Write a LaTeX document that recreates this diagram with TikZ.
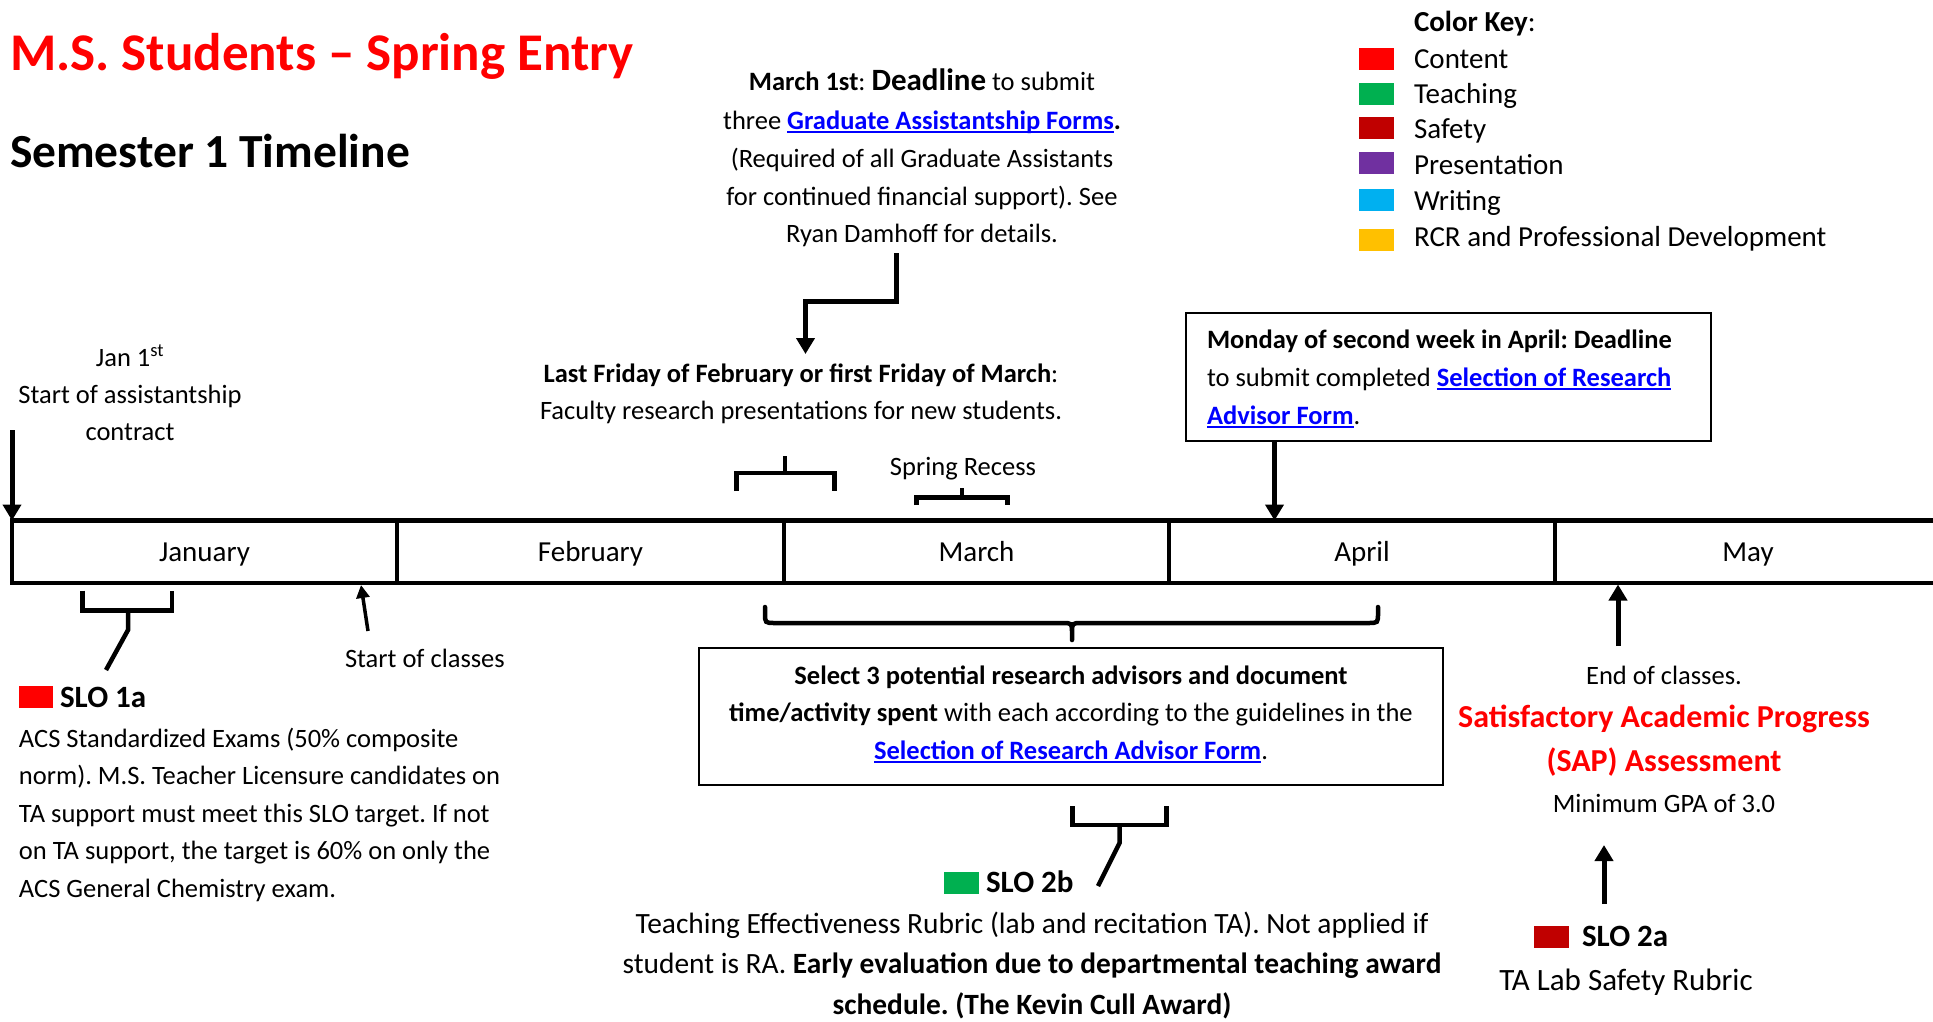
\documentclass[tikz,border=0pt]{standalone}
\usepackage{fontspec}
\setmainfont{Carlito}
\usetikzlibrary{arrows.meta}
\definecolor{keyred}{HTML}{FF0000}
\definecolor{keygreen}{HTML}{00B050}
\definecolor{keydark}{HTML}{C00000}
\definecolor{keypurple}{HTML}{7030A0}
\definecolor{keyblue}{HTML}{00B0F0}
\definecolor{keyyellow}{HTML}{FFC000}
\definecolor{linkblue}{HTML}{0000FF}
\newsavebox\lnkbox
\newcommand{\lnk}[1]{{\color{linkblue}\bfseries\sbox\lnkbox{#1}\rlap{\rule[-0.15em]{\wd\lnkbox}{0.065em}}\usebox\lnkbox}}
\newcommand{\fsz}[1]{\fontsize{#1}{#1}\selectfont}
\frenchspacing
\begin{document}
\frenchspacing
\begin{tikzpicture}[x=1pt, y=-1pt,
  txt/.style={inner sep=0pt, outer sep=0pt, font=\fsz{26.5}},
  tl/.style={txt, anchor=base west},
  tc/.style={txt, anchor=base},
  arr/.style={line width=5pt, -{Triangle[width=18pt,length=16pt]}},
  thinarr/.style={line width=3.5pt, -{Triangle[width=13pt,length=13pt]}},
  brk/.style={line width=4.5pt, line join=miter},
  month/.style={draw, line width=4.5pt, minimum height=62.5pt, inner sep=0pt, outer sep=0pt},
  infobox/.style={draw, line width=2pt, inner sep=0pt, outer sep=0pt},
  swatch/.style={inner sep=0pt, outer sep=0pt, minimum width=35pt, minimum height=22pt, anchor=north west}]
\fill[white] (0,0) rectangle (1933,1021);
\useasboundingbox (0,0) rectangle (1933,1021);

% Titles
\node[tl, font=\fsz{53}\bfseries, text=keyred] (title) at (10,70) {M.S. Students – Spring Entry};
\node[tl, font=\fsz{47.5}\bfseries] (subtitle) at (10,167) {Semester 1 Timeline};

% Color key
\node[tl, font=\fsz{29}] (keyhead) at (1414,31) {\textbf{Color Key}:};
\node[swatch, fill=keyred] (sw1) at (1359,48) {};
\node[swatch, fill=keygreen] (sw2) at (1359,82.5) {};
\node[swatch, fill=keydark] (sw3) at (1359,116.5) {};
\node[swatch, fill=keypurple] (sw4) at (1359,152) {};
\node[swatch, fill=keyblue] (sw5) at (1359,188.5) {};
\node[swatch, fill=keyyellow] (sw6) at (1359,228.5) {};
\node[tl, font=\fsz{29}] (k1) at (1414,68) {Content};
\node[tl, font=\fsz{29}] (k2) at (1414,103.5) {Teaching};
\node[tl, font=\fsz{29}] (k3) at (1414,138.5) {Safety};
\node[tl, font=\fsz{29}] (k4) at (1414,174) {Presentation};
\node[tl, font=\fsz{29}] (k5) at (1414,210) {Writing};
\node[tl, font=\fsz{29}] (k6) at (1414,246.5) {RCR and Professional Development};

% Timeline
\node[month, minimum width=385pt] (jan) at (204.5,551.75) {};
\node[month, minimum width=387pt] (feb) at (590.5,551.75) {};
\node[month, minimum width=385pt] (mar) at (976.5,551.75) {};
\node[month, minimum width=386pt] (apr) at (1362,551.75) {};
\node[month, minimum width=386pt] (may) at (1748,551.75) {};
\node[tc, font=\fsz{29}] (janlab) at (204.5,561) {January};
\node[tc, font=\fsz{29}] (feblab) at (590.5,561) {February};
\node[tc, font=\fsz{29}] (marlab) at (976.5,561) {March};
\node[tc, font=\fsz{29}] (aprlab) at (1362,561) {April};
\node[tc, font=\fsz{29}] (maylab) at (1748,561) {May};

% Jan 1st
\node[tc] (j1a) at (130,366) {Jan 1\textsuperscript{st}};
\node[tc] (j1b) at (130,403.5) {Start of assistantship};
\node[tc] (j1c) at (130,440.5) {contract};
\coordinate (j1tail) at (12,430);
\draw[arr] (j1tail) -- (jan.north west);

% March 1st
\node[tc] (m1a) at (922,90) {\textbf{March 1st}: {\fsz{31}\bfseries Deadline} to submit};
\node[tc] (m1b) at (922,129) {three \lnk{Graduate Assistantship Forms}\textbf{.}};
\node[tc] (m1c) at (922,167.5) {(Required of all Graduate Assistants};
\node[tc] (m1d) at (922,205) {for continued financial support). See};
\node[tc] (m1e) at (922,242) {Ryan Damhoff for details.};
\coordinate (m1tail) at (896.5,253);
\coordinate (m1tip) at (805.5,354);
\draw[arr, line join=miter] (m1tail) -- (896.5,301.5) -- (805.5,301.5) -- (m1tip);

% Last Friday
\node[tc] (lfa) at (801,382) {\textbf{Last Friday of February or first Friday of March}:};
\node[tc] (lfb) at (801,419) {Faculty research presentations for new students.};
\draw[brk] (736.5,491) -- (736.5,473) -- (834.5,473) -- (834.5,491);
\draw[brk] (785,473) -- (785,456);

% Spring recess
\node[tc] (spr) at (963,475) {Spring Recess};
\draw[brk] (916.5,505) -- (916.5,497.5) -- (1007.5,497.5) -- (1007.5,505);
\draw[brk] (962,497.5) -- (962,488);

% Monday box
\node[infobox, minimum width=525pt, minimum height=128pt] (monbox) at (1448.5,376.5) {};
\node[tl] (mona) at (1207,348) {\textbf{Monday of second week in April: Deadline}};
\node[tl] (monb) at (1207,386) {to submit completed \lnk{Selection of Research}};
\node[tl] (monc) at (1207,424) {\lnk{Advisor Form}.};
\coordinate (montail) at (1274.5,440.5);
\coordinate (montip) at (1274.5,520.5);
\draw[arr] (montail) -- (montip);

% Start of classes
\node[tl] (soc) at (345,667) {Start of classes};
\coordinate (soctail) at (368,631);
\coordinate (soctip) at (361,585);
\draw[thinarr] (soctail) -- (soctip);

% SLO 1a
\draw[brk] (82.6,590.5) -- (82.6,610.5) -- (172,610.5) -- (172,590.5);
\draw[brk] (128,610.5) -- (128,630) -- (106,670);
\node[swatch, fill=keyred, minimum width=34pt] (s1sw) at (19,686) {};
\node[tl, font=\fsz{31}\bfseries] (s1lab) at (60,707.5) {SLO 1a};
\node[tl] (s1a) at (19,747) {ACS Standardized Exams (50\% composite};
\node[tl] (s1b) at (19,784.5) {norm). M.S. Teacher Licensure candidates on};
\node[tl] (s1c) at (19,822) {TA support must meet this SLO target. If not};
\node[tl] (s1d) at (19,859.5) {on TA support, the target is 60\% on only the};
\node[tl] (s1e) at (19,897) {ACS General Chemistry exam.};

% Middle box
\draw[brk, line cap=round] (765,607) -- (765,613) .. controls (765,623) and (765,623) .. (775,623) -- (1062,623) .. controls (1072,623) and (1072,623) .. (1072,633) -- (1072,640)
  (1072,633) .. controls (1072,623) and (1072,623) .. (1082,623) -- (1368,623) .. controls (1378,623) and (1378,623) .. (1378,613) -- (1378,607);
\node[infobox, minimum width=744pt, minimum height=137pt] (selbox) at (1071,716.5) {};
\node[tc] (sela) at (1071,684) {\textbf{Select 3 potential research advisors and document}};
\node[tc] (selb) at (1071,721.5) {\textbf{time/activity spent} with each according to the guidelines in the};
\node[tc] (selc) at (1071,759) {\lnk{Selection of Research Advisor Form}.};

% SLO 2b
\draw[brk] (1072.5,806) -- (1072.5,825) -- (1166.5,825) -- (1166.5,806);
\draw[brk] (1119.5,825) -- (1119.5,843) -- (1098,886);
\node[swatch, fill=keygreen] (s2bsw) at (944,872) {};
\node[tl, font=\fsz{31}\bfseries] (s2blab) at (986,892) {SLO 2b};
\node[tc, font=\fsz{29.4}] (s2ba) at (1032,933) {Teaching Effectiveness Rubric (lab and recitation TA). Not applied if};
\node[tc, font=\fsz{29.4}] (s2bb) at (1032,973.5) {student is RA. \textbf{Early evaluation due to departmental teaching award}};
\node[tc, font=\fsz{29.4}\bfseries] (s2bc) at (1032,1014) {schedule. (The Kevin Cull Award)};

% End of classes / SAP
\coordinate (eoctail) at (1618,646);
\coordinate (eoctip) at (1618,584.5);
\draw[arr] (eoctail) -- (eoctip);
\node[tc] (eoc) at (1664,684) {End of classes.};
\node[tc, font=\fsz{32}\bfseries, text=keyred] (sapa) at (1664,727) {Satisfactory Academic Progress};
\node[tc, font=\fsz{32}\bfseries, text=keyred] (sapb) at (1664,771) {(SAP) Assessment};
\node[tc] (gpa) at (1664,812.5) {Minimum GPA of 3.0};
\coordinate (s2atail) at (1604,904);
\coordinate (s2atip) at (1604,845);
\draw[arr] (s2atail) -- (s2atip);
\node[swatch, fill=keydark] (s2asw) at (1534,925.5) {};
\node[tl, font=\fsz{31}\bfseries] (s2alab) at (1582,946) {SLO 2a};
\node[tc, font=\fsz{31}] (s2a) at (1626,990) {TA Lab Safety Rubric};
\end{tikzpicture}
\end{document}
